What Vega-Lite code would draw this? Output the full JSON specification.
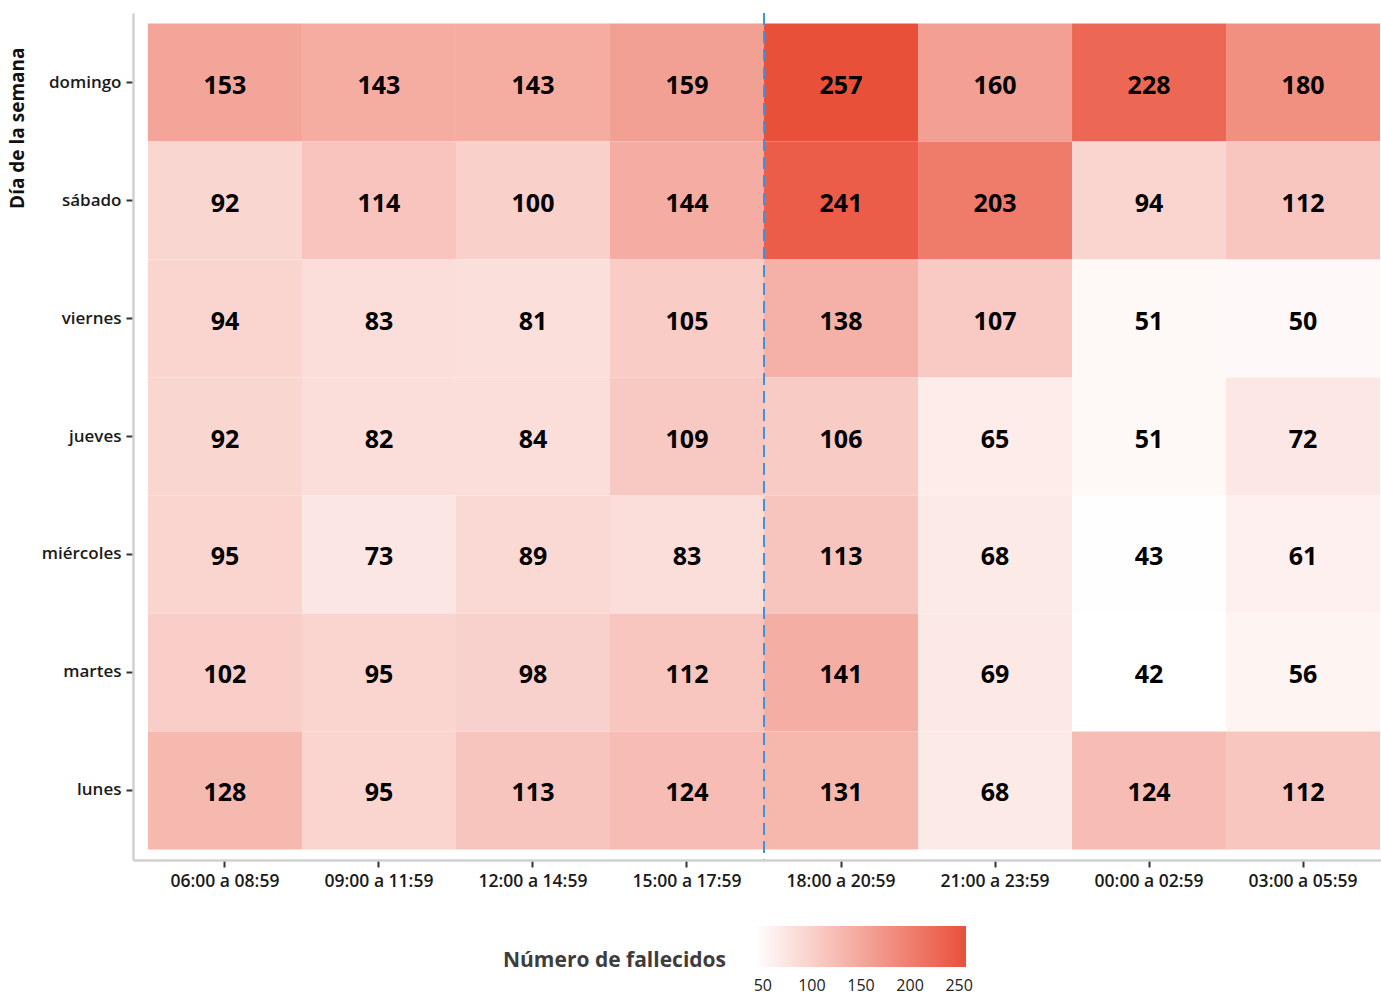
{
  "$schema": "https://vega.github.io/schema/vega-lite/v6.json",
  "width": 1262,
  "height": 847,
  "autosize": "none",
  "padding": {"left": 133, "top": 13, "right": 0, "bottom": 143},
  "background": "white",
  "config": {
    "view": {"stroke": null},
    "font": "Open Sans"
  },
  "data": {
    "values": [
      {"dia": "domingo", "franja": "06:00 a 08:59", "n": 153},
      {"dia": "domingo", "franja": "09:00 a 11:59", "n": 143},
      {"dia": "domingo", "franja": "12:00 a 14:59", "n": 143},
      {"dia": "domingo", "franja": "15:00 a 17:59", "n": 159},
      {"dia": "domingo", "franja": "18:00 a 20:59", "n": 257},
      {"dia": "domingo", "franja": "21:00 a 23:59", "n": 160},
      {"dia": "domingo", "franja": "00:00 a 02:59", "n": 228},
      {"dia": "domingo", "franja": "03:00 a 05:59", "n": 180},
      {"dia": "sábado", "franja": "06:00 a 08:59", "n": 92},
      {"dia": "sábado", "franja": "09:00 a 11:59", "n": 114},
      {"dia": "sábado", "franja": "12:00 a 14:59", "n": 100},
      {"dia": "sábado", "franja": "15:00 a 17:59", "n": 144},
      {"dia": "sábado", "franja": "18:00 a 20:59", "n": 241},
      {"dia": "sábado", "franja": "21:00 a 23:59", "n": 203},
      {"dia": "sábado", "franja": "00:00 a 02:59", "n": 94},
      {"dia": "sábado", "franja": "03:00 a 05:59", "n": 112},
      {"dia": "viernes", "franja": "06:00 a 08:59", "n": 94},
      {"dia": "viernes", "franja": "09:00 a 11:59", "n": 83},
      {"dia": "viernes", "franja": "12:00 a 14:59", "n": 81},
      {"dia": "viernes", "franja": "15:00 a 17:59", "n": 105},
      {"dia": "viernes", "franja": "18:00 a 20:59", "n": 138},
      {"dia": "viernes", "franja": "21:00 a 23:59", "n": 107},
      {"dia": "viernes", "franja": "00:00 a 02:59", "n": 51},
      {"dia": "viernes", "franja": "03:00 a 05:59", "n": 50},
      {"dia": "jueves", "franja": "06:00 a 08:59", "n": 92},
      {"dia": "jueves", "franja": "09:00 a 11:59", "n": 82},
      {"dia": "jueves", "franja": "12:00 a 14:59", "n": 84},
      {"dia": "jueves", "franja": "15:00 a 17:59", "n": 109},
      {"dia": "jueves", "franja": "18:00 a 20:59", "n": 106},
      {"dia": "jueves", "franja": "21:00 a 23:59", "n": 65},
      {"dia": "jueves", "franja": "00:00 a 02:59", "n": 51},
      {"dia": "jueves", "franja": "03:00 a 05:59", "n": 72},
      {"dia": "miércoles", "franja": "06:00 a 08:59", "n": 95},
      {"dia": "miércoles", "franja": "09:00 a 11:59", "n": 73},
      {"dia": "miércoles", "franja": "12:00 a 14:59", "n": 89},
      {"dia": "miércoles", "franja": "15:00 a 17:59", "n": 83},
      {"dia": "miércoles", "franja": "18:00 a 20:59", "n": 113},
      {"dia": "miércoles", "franja": "21:00 a 23:59", "n": 68},
      {"dia": "miércoles", "franja": "00:00 a 02:59", "n": 43},
      {"dia": "miércoles", "franja": "03:00 a 05:59", "n": 61},
      {"dia": "martes", "franja": "06:00 a 08:59", "n": 102},
      {"dia": "martes", "franja": "09:00 a 11:59", "n": 95},
      {"dia": "martes", "franja": "12:00 a 14:59", "n": 98},
      {"dia": "martes", "franja": "15:00 a 17:59", "n": 112},
      {"dia": "martes", "franja": "18:00 a 20:59", "n": 141},
      {"dia": "martes", "franja": "21:00 a 23:59", "n": 69},
      {"dia": "martes", "franja": "00:00 a 02:59", "n": 42},
      {"dia": "martes", "franja": "03:00 a 05:59", "n": 56},
      {"dia": "lunes", "franja": "06:00 a 08:59", "n": 128},
      {"dia": "lunes", "franja": "09:00 a 11:59", "n": 95},
      {"dia": "lunes", "franja": "12:00 a 14:59", "n": 113},
      {"dia": "lunes", "franja": "15:00 a 17:59", "n": 124},
      {"dia": "lunes", "franja": "18:00 a 20:59", "n": 131},
      {"dia": "lunes", "franja": "21:00 a 23:59", "n": 68},
      {"dia": "lunes", "franja": "00:00 a 02:59", "n": 124},
      {"dia": "lunes", "franja": "03:00 a 05:59", "n": 112}
    ]
  },
  "encoding": {
    "x": {
      "field": "franja", "type": "nominal",
      "sort": ["06:00 a 08:59", "09:00 a 11:59", "12:00 a 14:59", "15:00 a 17:59", "18:00 a 20:59", "21:00 a 23:59", "00:00 a 02:59", "03:00 a 05:59"],
      "scale": {"paddingInner": 0, "paddingOuter": 0.097},
      "axis": {
        "title": null, "labelAngle": 0, "labelFontSize": 17.5, "labelFontWeight": 600,
        "labelColor": "#1a1a1a", "labelPadding": 5,
        "domainColor": "#d0d0d0", "domainWidth": 2.5,
        "tickColor": "#333333", "tickWidth": 2, "tickSize": 7
      }
    },
    "y": {
      "field": "dia", "type": "nominal",
      "sort": ["domingo", "sábado", "viernes", "jueves", "miércoles", "martes", "lunes"],
      "scale": {"paddingInner": 0, "paddingOuter": 0.09},
      "axis": {
        "title": "Día de la semana", "titleFontSize": 19, "titleFontWeight": "bold",
        "titleColor": "#111111", "titlePadding": 14, "titleAnchor": "end", "titleY": 34,
        "labelFontSize": 17, "labelFontWeight": 600, "labelColor": "#1a1a1a", "labelPadding": 5,
        "domainColor": "#d0d0d0", "domainWidth": 2.5,
        "tickColor": "#333333", "tickWidth": 2, "tickSize": 7
      }
    }
  },
  "layer": [
    {
      "mark": {"type": "rect"},
      "encoding": {
        "color": {
          "field": "n", "type": "quantitative",
          "scale": {"domain": [42, 257], "range": ["#ffffff", "#e9503a"], "interpolate": "rgb"},
          "legend": {
            "title": "Número de fallecidos",
            "orient": "none", "direction": "horizontal",
            "legendX": 370, "legendY": 913,
            "titleOrient": "left", "titleFontSize": 21, "titleFontWeight": "bold",
            "titleColor": "#3d3d3d", "titlePadding": 28, "titleBaseline": "alphabetic",
            "titleAnchor": "end", "titleLimit": 500,
            "gradientLength": 211, "gradientThickness": 41,
            "gradientStrokeWidth": 0,
            "values": [50, 100, 150, 200, 250],
            "labelFontSize": 16, "labelColor": "#222222", "labelOffset": 11,
            "padding": 0
          }
        }
      }
    },
    {
      "mark": {"type": "text", "fontSize": 25, "fontWeight": "bold", "color": "#000000", "font": "Open Sans", "dy": 3},
      "encoding": {
        "text": {"field": "n", "type": "quantitative"}
      }
    },
    {
      "data": {"values": [{"franja": "18:00 a 20:59"}]},
      "mark": {"type": "rule", "color": "#3f93dc", "strokeWidth": 2, "strokeDash": [12, 6]},
      "encoding": {
        "x": {"field": "franja", "type": "nominal", "bandPosition": 0},
        "y": null
      }
    }
  ]
}
